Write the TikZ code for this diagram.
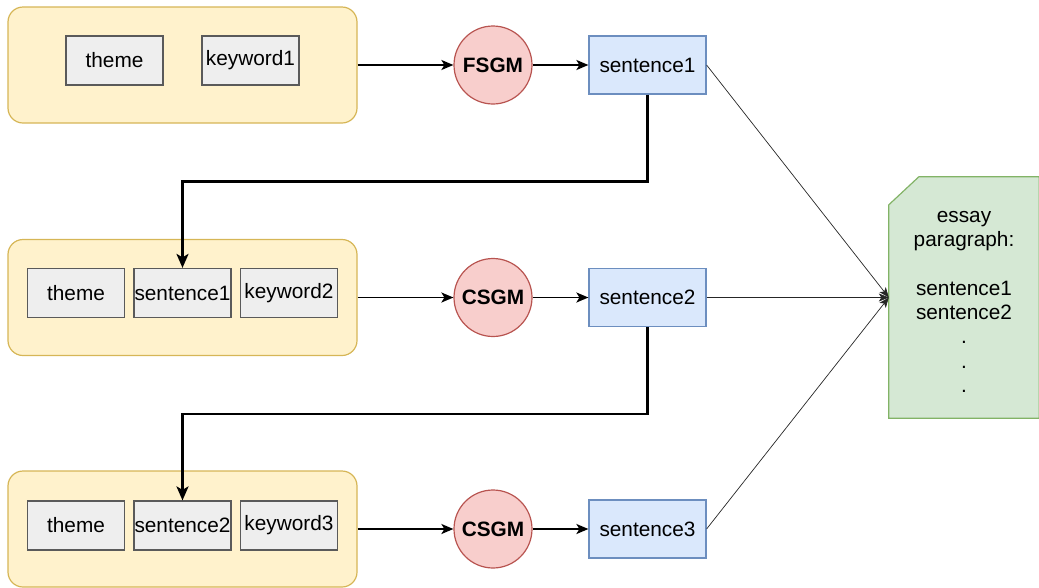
\documentclass[tikz,border=0pt]{standalone}
\usepackage{fontspec}
\setmainfont{Liberation Sans}
\usetikzlibrary{arrows.meta,calc}
\definecolor{grpfill}{HTML}{FFF2CC}
\definecolor{grpdraw}{HTML}{D6B656}
\definecolor{itemfill}{HTML}{EEEEEE}
\definecolor{itemdraw}{HTML}{5A5A5A}
\definecolor{genfill}{HTML}{F8CECC}
\definecolor{gendraw}{HTML}{B85450}
\definecolor{sentfill}{HTML}{DAE8FC}
\definecolor{sentdraw}{HTML}{6C8EBF}
\definecolor{essfill}{HTML}{D5E8D4}
\definecolor{essdraw}{HTML}{82B366}
\tikzset{
  x=1pt, y=-1pt,
  every node/.style={font=\fontsize{20.8}{24.3}\selectfont, inner sep=0pt},
  group/.style={draw=grpdraw, fill=grpfill, line width=1.2pt, rounded corners=15pt,
    minimum width=349pt, minimum height=116pt},
  item/.style={draw=itemdraw, fill=itemfill, line width=1.2pt,
    minimum width=97pt, minimum height=49pt},
  gen/.style={circle, draw=gendraw, fill=genfill, line width=1.2pt,
    minimum size=78pt, font=\fontsize{20.8}{24.3}\selectfont\bfseries},
  sent/.style={draw=sentdraw, fill=sentfill, line width=1.2pt,
    minimum width=117pt, minimum height=58pt},
  flow/.style={line width=1.8pt, -{Stealth[length=12pt,width=10pt,inset=3pt]}},
  feed/.style={line width=2.6pt, -{Stealth[length=14pt,width=12pt,inset=3.5pt]}},
  merge/.style={line width=0.7pt, draw=black!85, -{Stealth[length=10pt,width=8pt,inset=2.5pt]}},
}
\begin{document}
\begin{tikzpicture}
\useasboundingbox (0,0) rectangle (1039,587);

% input groups
\node[group] (c1) at (182.5,65) {};
\node[group] (c2) at (182.5,297.5) {};
\node[group] (c3) at (182.5,529) {};

\node[item] (t1) at (114.5,60.5) {theme};
\node[item] (k1) at (250.5,60.5) {keyword1};

\node[item] (t2) at (76,293) {theme};
\node[item] (p2) at (182.5,293) {sentence1};
\node[item] (k2) at (289,293) {keyword2};

\node[item] (t3) at (76,525.5) {theme};
\node[item] (p3) at (182.5,525.5) {sentence2};
\node[item] (k3) at (289,525.5) {keyword3};

% generators
\node[gen] (g1) at (493,65) {FSGM};
\node[gen] (g2) at (493,297.5) {CSGM};
\node[gen] (g3) at (493,529) {CSGM};

% generated sentences
\node[sent] (s1) at (647.5,65) {sentence1};
\node[sent] (s2) at (647.5,297.5) {sentence2};
\node[sent] (s3) at (647.5,529) {sentence3};

% output paragraph
\node[minimum width=150pt, minimum height=241pt] (ess) at (964,297.5) {};
\draw[draw=essdraw, fill=essfill, line width=1.2pt]
  (ess.south west) -- ($(ess.north west)+(0,28)$) -- ($(ess.north west)+(30,0)$)
  -- (ess.north east) -- (ess.south east) -- cycle;
\node[anchor=north, align=center] (esstext) at (964,205)
  {\strut essay\\paragraph:\\ \\sentence1\\sentence2\\.\\.\\.};
\coordinate (ein) at (ess.west);

% connectors
\draw[flow] (c1.east) -- (g1.west);
\draw[flow] (g1.east) -- (s1.west);
\draw[flow] (c2.east) -- (g2.west);
\draw[flow] (g2.east) -- (s2.west);
\draw[flow] (c3.east) -- (g3.west);
\draw[flow] (g3.east) -- (s3.west);

\draw[feed] (s1.south) -- ++(0,87) -| (p2.north);
\draw[feed] (s2.south) -- ++(0,87) -| (p3.north);

\draw[merge] (s1.east) -- (ein);
\draw[merge] (s2.east) -- (ein);
\draw[merge] (s3.east) -- (ein);
\end{tikzpicture}
\end{document}
